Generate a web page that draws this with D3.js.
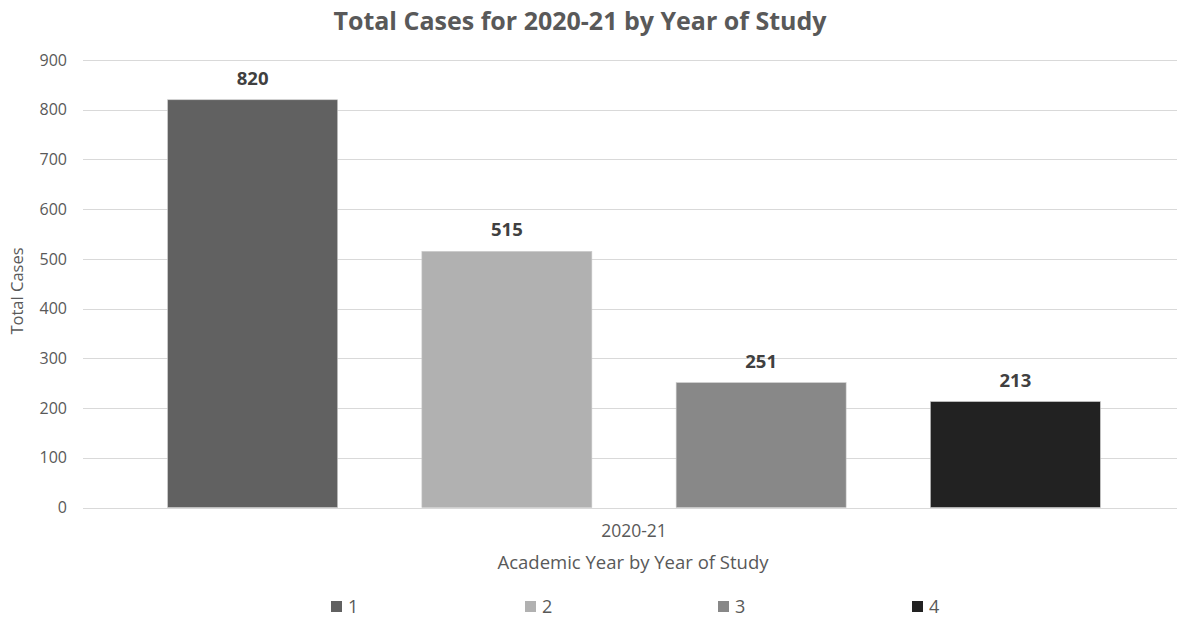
<!DOCTYPE html>
<html><head><meta charset="utf-8">
<script src="https://cdn.jsdelivr.net/npm/d3@7"></script>
<style>
html,body{margin:0;padding:0;background:#fff;}
svg{display:block;font-family:"Open Sans",sans-serif;}
</style></head>
<body><svg id="c" width="1177" height="620"></svg>
<script>
const categories = ["2020-21"];
const seriesNames = ["1","2","3","4"];
const seriesValues = [820, 515, 251, 213];
const yTicks = [0,100,200,300,400,500,600,700,800,900];
const seriesColors = ["#616161","#b1b1b1","#888888","#222222"];

const svg = d3.select("#c");
const W = 1177, H = 620;
const m = {left:83, right:-8, top:60, bottom:112.5};
const y = d3.scaleLinear().domain([0,900]).range([H-m.bottom, m.top]);
const x0 = d3.scaleBand().domain(categories).range([m.left, W-m.right]).paddingOuter(0.042).paddingInner(0);
const x1 = d3.scaleBand().domain(seriesNames).range([0, x0.bandwidth()]).paddingInner(0.3316).paddingOuter(0.165);

// gridlines
svg.append("g").selectAll("line").data(yTicks).join("line")
  .attr("x1", m.left).attr("x2", W)
  .attr("y1", d=>Math.round(y(d))+0.5).attr("y2", d=>Math.round(y(d))+0.5)
  .attr("stroke","#d9d9d9").attr("stroke-width",1);

// y axis labels
const yAxis = d3.axisLeft(y).tickValues(yTicks).tickSize(0).tickPadding(0);
const ga = svg.append("g").attr("transform",`translate(${m.left-16},0)`).call(yAxis);
ga.select(".domain").remove();
ga.selectAll("text").attr("fill","#595959").style("font-size","16px").style("font-family","'Open Sans',sans-serif");

// bars
const data = seriesNames.map((s,i)=>({s, v:seriesValues[i], c:seriesColors[i], cat:categories[0]}));
const g = svg.append("g");
g.selectAll("rect").data(data).join("rect")
  .attr("x", d=>x0(d.cat)+x1(d.s)).attr("width", x1.bandwidth())
  .attr("y", d=>y(d.v)).attr("height", d=>y(0)-y(d.v))
  .attr("fill", d=>d.c).attr("stroke","#c8c8c8").attr("stroke-width",0.6);
g.selectAll("text").data(data).join("text")
  .attr("x", d=>x0(d.cat)+x1(d.s)+x1.bandwidth()/2).attr("y", d=>y(d.v)-15)
  .attr("text-anchor","middle").attr("fill","#404040").style("font-weight","bold").style("font-size","18.5px")
  .text(d=>d.v);

// x axis label
const xAxis = d3.axisBottom(x0).tickSize(0).tickPadding(0);
const gx = svg.append("g").attr("transform",`translate(0,${y(0)+17})`).call(xAxis);
gx.select(".domain").remove();
gx.selectAll("text").attr("fill","#595959").style("font-size","17.5px").style("font-family","'Open Sans',sans-serif");

// title
svg.append("text").attr("x",580).attr("y",30).attr("text-anchor","middle")
  .attr("fill","#595959").style("font-weight","bold").style("font-size","25px")
  .text("Total Cases for 2020-21 by Year of Study");
// axis titles
svg.append("text").attr("x",633).attr("y",569).attr("text-anchor","middle")
  .attr("fill","#595959").style("font-size","18.5px").text("Academic Year by Year of Study");
svg.append("text").attr("transform","translate(23,291) rotate(-90)").attr("text-anchor","middle")
  .attr("fill","#595959").style("font-size","16.5px").text("Total Cases");

// legend
const legX = [331, 525, 718, 912];
const lg = svg.append("g").selectAll("g").data(data).join("g")
  .attr("transform",(d,i)=>`translate(${legX[i]},601)`);
lg.append("rect").attr("width",11).attr("height",11).attr("fill",d=>d.c);
lg.append("text").attr("x",17).attr("y",12).attr("fill","#595959").style("font-size","18px").text(d=>d.s);
</script></body></html>
